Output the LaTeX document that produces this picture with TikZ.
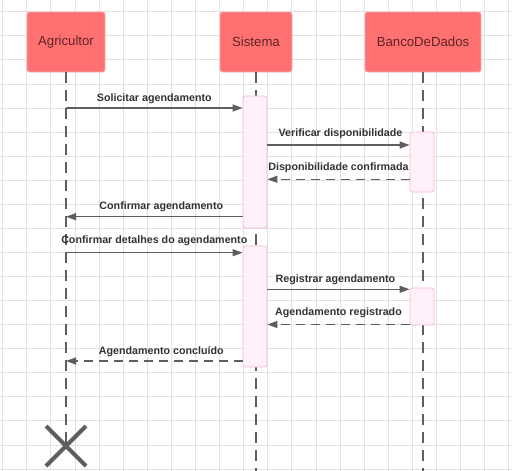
\documentclass[tikz,border=0pt]{standalone}
\usepackage{fontspec}
\setmainfont{Liberation Sans}
\usetikzlibrary{arrows.meta,calc}
\definecolor{gridc}{HTML}{E2E2E2}
\definecolor{actorfill}{HTML}{FF7070}
\definecolor{actorline}{HTML}{F7A9B2}
\definecolor{actortext}{HTML}{5E2428}
\definecolor{actfill}{HTML}{FFF0FA}
\definecolor{actline}{HTML}{F5B8D6}
\definecolor{linec}{HTML}{5E5E5E}
\definecolor{labelc}{HTML}{333333}
\tikzset{
  actor/.style={draw=actorline, fill=actorfill, rounded corners=2.5pt, line width=0.8pt,
    text=actortext, font=\fontsize{13.2}{15}\selectfont, inner sep=0pt},
  activation/.style={draw=actline, fill=actfill, rounded corners=2.5pt, line width=0.8pt,
    minimum width=24pt, inner sep=0pt},
  lifeline/.style={draw=linec, line width=1.2pt, dash pattern=on 11pt off 7pt},
  msgsync/.style={draw=linec, line width=1.3pt, -{Triangle[length=10pt,width=7pt]}},
  msgreturn/.style={draw=linec, line width=1.3pt, dash pattern=on 9pt off 6pt,
    -{Triangle[length=10pt,width=7pt]}},
  msglabel/.style={text=labelc, font=\bfseries\fontsize{10.7}{12}\selectfont, inner sep=0pt},
  destroy/.style={draw=linec, line width=4pt}
}
\begin{document}
\begin{tikzpicture}[x=1pt,y=-1pt]
\useasboundingbox (0,0) rectangle (512,471);
\fill[white] (0,0) rectangle (512,471);
% grid
\foreach \i in {0,...,21} {
  \draw[gridc, line width=0.8pt] (2.6+24.1*\i,0) -- (2.6+24.1*\i,471);
}
\foreach \j in {0,...,19} {
  \draw[gridc, line width=0.8pt] (0,11.7+24.07*\j) -- (512,11.7+24.07*\j);
}
% actors
\node[actor, minimum width=78pt, minimum height=60pt] (agr) at (66,42) {Agricultor};
\node[actor, minimum width=72pt, minimum height=60pt] (sis) at (256,42) {Sistema};
\node[actor, minimum width=116pt, minimum height=60pt] (bd) at (423,42) {BancoDeDados};
% lifeline ends
\coordinate (xend) at (66,446);
\coordinate (sisend) at (256,471);
\coordinate (bdend) at (423,471);
\draw[lifeline] (agr.south) -- (xend);
\draw[lifeline] (sis.south) -- (sisend);
\draw[lifeline] (bd.south) -- (bdend);
% activations
\node[activation, minimum height=132pt] (sa1) at (255,162) {};
\node[activation, minimum height=60pt] (ba1) at (422,162) {};
\node[activation, minimum height=121pt] (sa2) at (255,306.5) {};
\node[activation, minimum height=37pt] (ba2) at (422,306.5) {};
% message anchors on the Agricultor lifeline
\coordinate (a1) at (66,108);
\coordinate (a4) at (66,216.7);
\coordinate (a5) at (66,252.7);
\coordinate (a8) at (66,361);
% messages
\draw[msgsync] (a1) -- (a1 -| sa1.west)
  node[msglabel, midway, above=4pt] {Solicitar agendamento};
\draw[msgsync] (sa1.east |- 0,145) coordinate (s2) -- (s2 -| ba1.west)
  node[msglabel, midway, above=5.5pt, xshift=2pt] {Verificar disponibilidade};
\draw[msgreturn] (ba1.west |- 0,179.3) coordinate (b3) -- (b3 -| sa1.east)
  node[msglabel, midway, above=6pt] {Disponibilidade confirmada};
\draw[msgsync] (a4 -| sa1.west) -- (a4)
  node[msglabel, midway, above=4pt, xshift=7pt] {Confirmar agendamento};
\draw[msgsync] (a5) -- (a5 -| sa2.west)
  node[msglabel, midway, above=6pt] {Confirmar detalhes do agendamento};
\draw[msgsync] (sa2.east |- 0,289.3) coordinate (s6) -- (s6 -| ba2.west)
  node[msglabel, midway, above=4pt, xshift=-3pt] {Registrar agendamento};
\draw[msgreturn] (ba2.west |- 0,324.5) coordinate (b7) -- (b7 -| sa2.east)
  node[msglabel, midway, above=6pt] {Agendamento registrado};
\draw[msgreturn] (a8 -| sa2.west) -- (a8)
  node[msglabel, midway, above=4pt, xshift=7pt] {Agendamento concluído};
% destruction
\draw[destroy] ($(xend)+(-20,-20)$) -- ($(xend)+(20,20)$);
\draw[destroy] ($(xend)+(-20,20)$) -- ($(xend)+(20,-20)$);
\end{tikzpicture}
\end{document}
